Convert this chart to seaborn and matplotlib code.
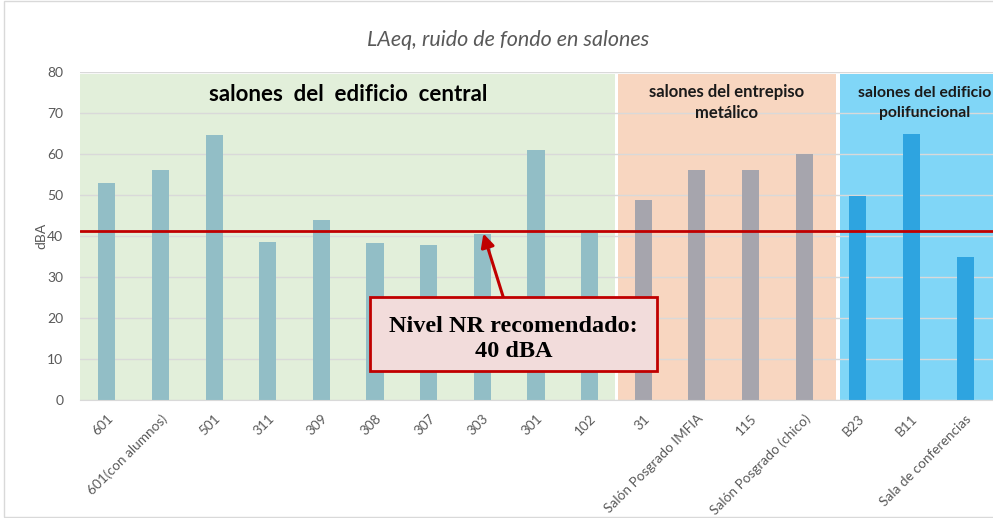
import pandas as pd
import numpy as np
import matplotlib.pyplot as plt
import seaborn as sns
from matplotlib.patches import Rectangle

sns.set_style('white')
plt.rcParams['font.family'] = ['Lato', 'DejaVu Sans']

salones = ['601', '601(con alumnos)', '501', '311', '309', '308', '307', '303', '301', '102',
           '31', 'Salón Posgrado IMFIA', '115', 'Salón Posgrado (chico)',
           'B23', 'B11', 'Sala de conferencias']
laeq = [53, 56, 64.6, 38.6, 43.9, 38.3, 37.7, 40.6, 61, 40.8,
        48.9, 56, 56, 60,
        49.8, 65, 35]
edificio = ['central'] * 10 + ['entrepiso'] * 4 + ['polifuncional'] * 3
nivel_nr = 41.2

bar_colors = {'central': '#92BEC6', 'entrepiso': '#A6A5AD', 'polifuncional': '#2EA4E0'}
zonas = [('central', -0.5, 9.47, '#E2EFDA'),
         ('entrepiso', 9.53, 13.6, '#F8D6C0'),
         ('polifuncional', 13.66, 16.6, '#80D6F7')]

data = pd.DataFrame({'salon': salones, 'dBA': laeq, 'edificio': edificio})

fig = plt.figure(figsize=(9.93, 5.18), dpi=100)
ax = fig.add_axes([80 / 993, 118 / 518, 913 / 993, 328 / 518])

for _, x0, x1, col in zonas:
    ax.add_patch(Rectangle((x0, 0), x1 - x0, 79.5, facecolor=col, edgecolor='none', zorder=0.2))

sns.barplot(data=data, x='salon', y='dBA', hue='edificio', palette=bar_colors,
            dodge=False, width=0.32, saturation=1, linewidth=0, legend=False, ax=ax, zorder=2)

ax.set_ylim(0, 80)
ax.set_xlim(-0.5, 16.52)
ax.set_yticks(range(0, 81, 10))
ax.yaxis.grid(True, color='#D9D9D9', lw=1, zorder=0.5)
ax.set_axisbelow(True)
for s in ['top', 'right', 'left']:
    ax.spines[s].set_visible(False)
ax.spines['bottom'].set_color('#D9D9D9')
ax.tick_params(length=0)
ax.tick_params(axis='y', labelsize=10, labelcolor='#595959', pad=12)
ax.set_xticks(range(len(salones)))
ax.set_xticklabels(salones, rotation=45, ha='right', rotation_mode='anchor',
                   fontsize=9.8, color='#595959')
ax.tick_params(axis='x', pad=9)
ax.set_xlabel('')
ax.set_ylabel('dBA', fontsize=10, color='#595959', labelpad=0)

ax.axhline(nivel_nr, color='#C00000', lw=2, zorder=3)

ax.text(4.5, 74.6, 'salones  del  edificio  central', ha='center', va='center',
        fontsize=16, fontweight='bold', color='black', zorder=4)
ax.text(11.55, 72.5, 'salones del entrepiso\nmetálico', ha='center', va='center',
        fontsize=12, fontweight='bold', color='#1a1a1a', linespacing=1.4, zorder=4)
ax.text(15.25, 72.5, 'salones del edificio\npolifuncional', ha='center', va='center',
        fontsize=11.3, fontweight='bold', color='#1a1a1a', linespacing=1.5, zorder=4)

# recuadro de nivel recomendado
ax.add_patch(Rectangle((4.91, 7.1), 5.35, 18.0, facecolor='#F2DCDB', edgecolor='#C00000',
                       lw=2, zorder=6))
ax.text(7.585, 14.9, 'Nivel NR recomendado:\n40 dBA', ha='center', va='center',
        fontsize=17.5, fontweight='bold', family='Liberation Serif', color='black',
        linespacing=1.3, zorder=7)
ax.annotate('', xy=(7.02, 40.6), xytext=(7.39, 25.1),
            arrowprops=dict(arrowstyle='-|>', color='#C00000', lw=2.2, mutation_scale=20,
                            shrinkA=0, shrinkB=0), zorder=5)

fig.text(508 / 993, 1 - 40 / 518, 'LAeq, ruido de fondo en salones', ha='center', va='center',
         fontsize=15.5, style='italic', color='#595959')

fig.patches.append(Rectangle((4 / 993, 0.002), 1.2, 0.996, transform=fig.transFigure,
                             facecolor='none', edgecolor='#D9D9D9', lw=1))

fig.savefig('out.png', dpi=100)
